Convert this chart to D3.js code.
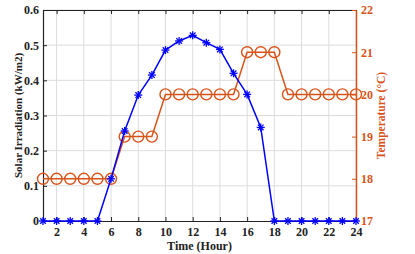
<!DOCTYPE html>
<html>
<head>
<meta charset="utf-8">
<script src="https://cdn.jsdelivr.net/npm/d3@7"></script>
<style>
  body { margin: 0; background: #fff; }
  text { font-family: "Liberation Serif", "Times New Roman", serif; font-weight: bold; }
</style>
</head>
<body>
<div id="chart"></div>
<script>
const hours = d3.range(1, 25);
const solar = [0, 0, 0, 0, 0, 0.12, 0.256, 0.358, 0.415, 0.486, 0.512, 0.528, 0.507, 0.488, 0.42, 0.36, 0.266, 0, 0, 0, 0, 0, 0, 0];
const temp = [18, 18, 18, 18, 18, 18, 19, 19, 19, 20, 20, 20, 20, 20, 20, 21, 21, 21, 20, 20, 20, 20, 20, 20];
const xTicks = [2, 4, 6, 8, 10, 12, 14, 16, 18, 20, 22, 24];
const leftTicks = [0, 0.1, 0.2, 0.3, 0.4, 0.5, 0.6];
const rightTicks = [17, 18, 19, 20, 21, 22];

const width = 415, height = 254;
const m = { left: 43, right: 59, top: 10, bottom: 33 };
const blue = '#0000ff', orange = '#d95319';

const svg = d3.select('#chart').append('svg').attr('width', width).attr('height', height);

const x = d3.scaleLinear().domain([1, 24]).range([m.left, width - m.right]);
const y = d3.scaleLinear().domain([0, 0.6]).range([height - m.bottom, m.top]);
const y2 = d3.scaleLinear().domain([17, 22]).range([height - m.bottom, m.top]);

// grid
svg.append('g').selectAll('line').data(xTicks).enter().append('line')
  .attr('x1', d => x(d)).attr('x2', d => x(d))
  .attr('y1', y(0)).attr('y2', y(0.6))
  .attr('stroke', '#dcdcdc').attr('stroke-width', 1);
svg.append('g').selectAll('line').data(leftTicks.slice(1)).enter().append('line')
  .attr('x1', x(1)).attr('x2', x(24))
  .attr('y1', d => y(d)).attr('y2', d => y(d))
  .attr('stroke', '#dcdcdc').attr('stroke-width', 1);

// axes
const tk = 4;
const axB = svg.append('g').attr('transform', 'translate(0,' + y(0) + ')')
  .call(d3.axisBottom(x).tickValues(xTicks).tickSize(-tk).tickPadding(6).tickSizeOuter(0));
const axT = svg.append('g').attr('transform', 'translate(0,' + y(0.6) + ')')
  .call(d3.axisTop(x).tickValues(xTicks).tickSize(-tk).tickFormat('').tickSizeOuter(0));
const axL = svg.append('g').attr('transform', 'translate(' + x(1) + ',0)')
  .call(d3.axisLeft(y).tickValues(leftTicks).tickSize(-tk).tickPadding(4).tickSizeOuter(0)
    .tickFormat(d => d === 0 ? '0' : d3.format('.1f')(d)));
const axR = svg.append('g').attr('transform', 'translate(' + x(24) + ',0)')
  .call(d3.axisRight(y2).tickValues(rightTicks).tickSize(-tk).tickPadding(5).tickSizeOuter(0)
    .tickFormat(d3.format('d')));

[axB, axT, axL, axR].forEach(a => a.attr('font-family', null).attr('font-size', null));
[axB, axT, axL].forEach(a => {
  a.select('.domain').attr('stroke', '#222').attr('stroke-width', 1.2);
  a.selectAll('.tick line').attr('stroke', '#222');
  a.selectAll('text').attr('font-size', 12).attr('fill', '#222');
});
axR.select('.domain').attr('stroke', orange).attr('stroke-width', 1.5);
axR.selectAll('.tick line').attr('stroke', orange);
axR.selectAll('text').attr('font-size', 12).attr('fill', orange);

// temperature line
svg.append('path').datum(temp)
  .attr('fill', 'none').attr('stroke', orange).attr('stroke-width', 1.5)
  .attr('d', d3.line().x((d, i) => x(hours[i])).y(d => y2(d)));
svg.append('g').selectAll('circle').data(temp).enter().append('circle')
  .attr('cx', (d, i) => x(hours[i])).attr('cy', d => y2(d)).attr('r', 5.5)
  .attr('fill', 'none').attr('stroke', orange).attr('stroke-width', 1.4);

// solar line
svg.append('path').datum(solar)
  .attr('fill', 'none').attr('stroke', blue).attr('stroke-width', 1.5)
  .attr('d', d3.line().x((d, i) => x(hours[i])).y(d => y(d)));
const star = svg.append('g').selectAll('g').data(solar).enter().append('g')
  .attr('transform', (d, i) => 'translate(' + x(hours[i]) + ',' + y(d) + ')');
const s = 4;
[[-s, 0, s, 0], [0, -s, 0, s], [-s * 0.7, -s * 0.7, s * 0.7, s * 0.7], [-s * 0.7, s * 0.7, s * 0.7, -s * 0.7]].forEach(l => {
  star.append('line').attr('x1', l[0]).attr('y1', l[1]).attr('x2', l[2]).attr('y2', l[3])
    .attr('stroke', blue).attr('stroke-width', 1.3);
});

// labels
svg.append('text').attr('x', (x(1) + x(24)) / 2).attr('y', 250).attr('text-anchor', 'middle')
  .attr('font-size', 12).attr('fill', '#222').text('Time (Hour)');
svg.append('text').attr('transform', 'translate(22,' + (y(0.3)) + ') rotate(-90)')
  .attr('text-anchor', 'middle').attr('font-size', 11).attr('fill', '#222').text('Solar Irradiation (kW/m2)');
svg.append('text').attr('transform', 'translate(385,' + (y(0.3)) + ') rotate(-90)')
  .attr('text-anchor', 'middle').attr('font-size', 11.5).attr('fill', orange).text('Temperature (°C)');
</script>
</body>
</html>
